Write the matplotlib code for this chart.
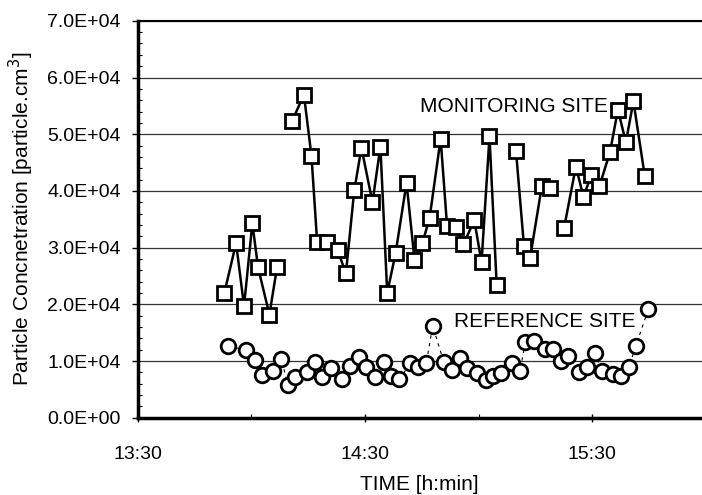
import numpy as np
import matplotlib
matplotlib.use("Agg")
import matplotlib.pyplot as plt
from matplotlib.ticker import MultipleLocator, FuncFormatter

plt.rcParams['font.family'] = ['Liberation Sans', 'DejaVu Sans']

nan = np.nan
# minutes after 13:30 ; NaN marks a break in the line
mon_minutes = [22.9, 26.0, 28.1, 30.3, 31.8, 34.8, 36.8, nan,
               40.8, 43.9, 45.9, 47.4, 50.0, 52.8, 55.0, 57.2, 59.1, 62.0, 64.1,
               65.9, 68.1, 71.0, 73.1, 75.2, 77.1, 80.0, 81.7, 84.0, 86.0, 88.9,
               90.8, 92.9, 94.8, nan,
               99.9, 102.0, 103.6, 106.7, 108.9, nan,
               112.6, 115.7, 117.7, 119.8, 121.9, 124.7, 126.8, 128.9, 130.9, 133.9]
mon_values = [2.20e4, 3.08e4, 1.97e4, 3.43e4, 2.65e4, 1.82e4, 2.65e4, nan,
              5.23e4, 5.70e4, 4.62e4, 3.10e4, 3.10e4, 2.95e4, 2.55e4, 4.01e4, 4.76e4, 3.80e4, 4.78e4,
              2.20e4, 2.90e4, 4.14e4, 2.79e4, 3.08e4, 3.53e4, 4.92e4, 3.38e4, 3.37e4, 3.06e4, 3.48e4,
              2.74e4, 4.96e4, 2.34e4, nan,
              4.70e4, 3.03e4, 2.81e4, 4.08e4, 4.05e4, nan,
              3.35e4, 4.43e4, 3.90e4, 4.28e4, 4.08e4, 4.68e4, 5.43e4, 4.86e4, 5.58e4, 4.26e4]

ref_minutes = [23.8, 28.7, 30.9, 32.8, 35.7, 37.9, 39.7, 41.6, 44.7, 46.9, 48.7, 51.0,
               54.0, 56.0, 58.4, 60.3, 62.8, 65.0, 67.0, 69.1, 72.0, 74.1, 76.2, 77.9,
               80.8, 83.1, 85.1, 87.0, 89.7, 91.9, 93.9, 96.0, 98.9, 100.9, 102.4, 104.6,
               107.5, 109.6, 111.7, 113.7, 116.5, 118.7, 120.8, 122.5, 125.5, 127.5,
               129.7, 131.5, 134.8]
ref_values = [1.27e4, 1.19e4, 1.02e4, 0.76e4, 0.82e4, 1.04e4, 0.58e4, 0.72e4, 0.80e4, 0.99e4, 0.72e4, 0.88e4,
              0.69e4, 0.92e4, 1.08e4, 0.89e4, 0.72e4, 0.99e4, 0.73e4, 0.68e4, 0.96e4, 0.90e4, 0.96e4, 1.62e4,
              0.99e4, 0.85e4, 1.05e4, 0.88e4, 0.79e4, 0.67e4, 0.74e4, 0.79e4, 0.96e4, 0.82e4, 1.33e4, 1.36e4,
              1.21e4, 1.21e4, 1.00e4, 1.09e4, 0.80e4, 0.90e4, 1.14e4, 0.83e4, 0.77e4, 0.74e4,
              0.89e4, 1.26e4, 1.91e4]

x_ticks = [0, 60, 120]
x_tick_labels = ["13:30", "14:30", "15:30"]

fig = plt.figure(figsize=(7.02, 4.95), dpi=100)
ax = fig.add_axes([0.196, 0.156, 0.804, 0.802])

ax.plot(ref_minutes, ref_values, color='black', lw=0.8, ls=(0, (3, 4)),
        marker='o', ms=10.5, mfc='white', mec='black', mew=2.0, zorder=3)
ax.plot(mon_minutes, mon_values, color='black', lw=1.8,
        marker='s', ms=10.5, mfc='white', mec='black', mew=2.0, zorder=4)

ax.set_xlim(0, 149)
ax.set_ylim(0, 7e4)
ax.set_xticks(x_ticks)
ax.set_xticklabels(x_tick_labels, fontsize=14)
ax.xaxis.set_minor_locator(MultipleLocator(30))
ax.yaxis.set_major_locator(MultipleLocator(1e4))
ax.yaxis.set_minor_locator(MultipleLocator(2e3))
ax.yaxis.set_major_formatter(FuncFormatter(lambda v, p: f"{v:.1E}"))
ax.tick_params(axis='y', which='major', direction='out', length=4, width=1, labelsize=14, pad=8)
ax.tick_params(axis='y', which='minor', direction='in', length=3, width=0.8)
ax.tick_params(axis='x', which='major', direction='inout', length=6, width=1, labelsize=14, pad=17)
ax.tick_params(axis='x', which='minor', direction='in', length=3, width=0.8)

ax.grid(axis='y', which='major', color='#333333', lw=0.9)
ax.set_axisbelow(True)
ax.spines['right'].set_visible(False)
ax.spines['left'].set_linewidth(2.5)
ax.spines['bottom'].set_linewidth(2.5)
ax.spines['top'].set_linewidth(1.5)

ax.set_xlabel("TIME [h:min]", fontsize=15, labelpad=9)
ax.set_ylabel("Particle Concnetration [particle.cm$^3$]", fontsize=15, labelpad=8)

ax.text(74.5, 5.48e4, "MONITORING SITE", fontsize=15, va='center', ha='left', zorder=2)
ax.text(83.5, 1.70e4, "REFERENCE SITE", fontsize=15, va='center', ha='left', zorder=2)

fig.savefig("out.png", dpi=100)
